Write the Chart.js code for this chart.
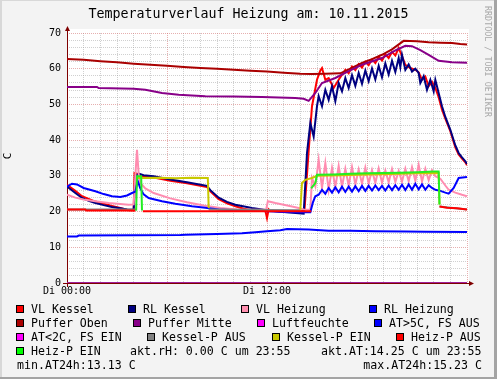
<!DOCTYPE html>
<html>
<head>
<meta charset="utf-8">
<script src="https://cdn.jsdelivr.net/npm/chart.js@4.4.0/dist/chart.umd.min.js"></script>
<style>
  html, body { margin: 0; padding: 0; }
  body {
    width: 497px; height: 379px; position: relative; overflow: hidden;
    background: #f3f3f3; color: #000;
    font-family: 'DejaVu Sans Mono', monospace;
  }
  #plot { position: absolute; left: 0; top: 0; width: 497px; height: 300px; }
  .t { position: absolute; white-space: pre; }
  #title { left: 0; width: 497px; top: 6px; text-align: center; font-size: 13.3px; line-height: 16px; }
  #ylab { left: 5px; top: 149px; font-size: 11px; line-height: 14px; transform: rotate(-90deg); }
  #mark { left: 483px; top: 6px; writing-mode: vertical-rl; font-size: 8.4px; color: #a8a8a8; }
  .leg { font-size: 11.6px; line-height: 14px; }
  .sw { position: absolute; width: 8px; height: 8px; box-sizing: border-box; border: 1px solid #000; }
  .edge { position: absolute; }
</style>
</head>
<body>
<div class="edge" style="left:0;top:0;width:2px;height:379px;background:#d8d8d8"></div>
<div class="edge" style="left:0;top:0;width:497px;height:1px;background:#d8d8d8"></div>
<div class="edge" style="left:494px;top:0;width:3px;height:379px;background:#a4a4a4"></div>
<div class="edge" style="left:0;top:377px;width:497px;height:2px;background:#a4a4a4"></div>

<div id="plot"><canvas id="chart"></canvas></div>
<div class="t" id="title">Temperaturverlauf Heizung am: 10.11.2015</div>
<div class="t" id="ylab">C</div>
<div class="t" id="mark">RRDTOOL / TOBI OETIKER</div>
<div id="legend"></div>

<script>
// Stunden des Tages (x) und Messwerte in °C (y)
const xTickHours = [0, 12];
const xTickLabels = ['Di 00:00', 'Di 12:00'];

const vlKesselH = [0, 0.5, 0.9, 1.7, 2.7, 3.2, 3.7, 4.0, 4.05, 4.3, 4.6, 5.2, 6.2, 7.2, 8.4, 8.6, 9.1, 9.6, 10.1, 10.6, 11.1, 11.9, 12.0, 12.1, 12.2, 13.0, 14.0, 14.25, 14.5, 14.7, 15.0, 15.2, 15.3, 15.5, 15.7, 16.0, 16.3, 16.7, 16.9, 17.1, 17.3, 17.5, 17.7, 17.9, 18.1, 18.3, 18.5, 18.7, 18.9, 19.1, 19.3, 19.5, 19.7, 19.9, 20.1, 20.3, 20.6, 20.9, 21.1, 21.3, 21.5, 21.7, 21.9, 22.1, 22.3, 22.5, 22.7, 23.0, 23.3, 23.5, 23.7, 23.9, 24];
const vlKessel = [27.5, 25.8, 24.3, 22.8, 21.6, 21.0, 20.4, 20.3, 30.8, 30.5, 29.8, 29.5, 28.6, 27.9, 26.9, 25.7, 23.5, 22.3, 21.5, 20.8, 20.4, 20.3, 18.2, 20.6, 20.2, 20.1, 20.0, 20.4, 37.0, 49.5, 56.9, 59.5, 60.2, 56.9, 57.4, 54.6, 56.9, 59.7, 58.7, 60.6, 59.6, 61.3, 60.3, 62.0, 61.0, 62.6, 61.6, 63.3, 62.3, 64.0, 63.0, 64.7, 63.7, 65.8, 63.5, 61.1, 60.2, 59.7, 59.0, 56.9, 57.8, 55.1, 56.3, 54.6, 52.0, 48.5, 46.0, 42.5, 38.0, 36.0, 34.8, 33.8, 33.0];

const rlKesselH = [0, 0.5, 0.9, 1.3, 1.7, 2.2, 2.7, 3.2, 3.6, 4.0, 4.1, 4.3, 4.6, 5.2, 6.2, 7.2, 8.4, 8.6, 9.1, 9.6, 10.1, 11.1, 12.1, 13.0, 13.9, 14.2, 14.4, 14.6, 14.8, 15.0, 15.1, 15.3, 15.5, 15.7, 15.9, 16.1, 16.3, 16.5, 16.7, 16.9, 17.1, 17.3, 17.5, 17.7, 17.9, 18.1, 18.3, 18.5, 18.7, 18.9, 19.1, 19.3, 19.5, 19.7, 19.9, 20.0, 20.1, 20.3, 20.5, 20.7, 20.9, 21.1, 21.2, 21.4, 21.6, 21.8, 22.0, 22.1, 22.5, 22.7, 23.0, 23.3, 23.5, 23.7, 23.9, 24];
const rlKessel = [27.0, 25.2, 23.8, 23.0, 22.4, 21.8, 21.3, 20.9, 20.6, 20.5, 29.9, 30.6, 30.2, 29.9, 29.0, 28.2, 27.2, 26.0, 23.9, 22.7, 21.9, 21.0, 20.3, 19.9, 19.5, 19.4, 36.4, 44.8, 41.0, 49.5, 52.3, 49.5, 54.1, 51.3, 55.1, 50.9, 56.0, 53.7, 57.4, 54.6, 58.2, 55.2, 58.8, 55.8, 59.5, 56.5, 60.1, 57.0, 60.8, 57.6, 61.5, 58.4, 62.2, 59.1, 63.0, 60.5, 63.9, 59.7, 61.2, 59.2, 60.0, 58.8, 56.0, 57.9, 54.1, 56.9, 53.7, 56.9, 49.5, 46.5, 42.9, 38.5, 36.4, 35.2, 34.1, 33.3];

const vlHeizH = [0, 0.5, 1.0, 1.7, 2.5, 3.2, 3.7, 4.0, 4.1, 4.2, 4.3, 4.4, 4.7, 5.2, 6.2, 7.2, 8.2, 9.2, 10.2, 11.0, 11.95, 12.05, 12.5, 13.0, 13.5, 13.9, 14.2, 14.6, 14.7, 14.9, 15.1, 15.3, 15.5, 15.7, 15.9, 16.1, 16.3, 16.5, 16.7, 16.9, 17.1, 17.3, 17.5, 17.7, 17.9, 18.1, 18.3, 18.5, 18.7, 18.9, 19.1, 19.3, 19.5, 19.7, 19.9, 20.1, 20.3, 20.5, 20.7, 20.9, 21.1, 21.3, 21.5, 21.7, 21.9, 22.1, 22.4, 22.7, 22.9, 23.3, 23.7, 24];
const vlHeiz = [24.7, 23.9, 23.4, 22.9, 22.4, 22.1, 21.9, 22.0, 30.0, 37.3, 30.5, 28.0, 26.5, 25.2, 23.7, 22.6, 21.7, 21.0, 20.6, 20.5, 20.5, 22.9, 22.4, 21.9, 21.4, 21.0, 20.6, 20.5, 29.4, 27.0, 34.5, 26.6, 33.6, 26.1, 32.2, 26.8, 32.8, 27.0, 32.0, 27.3, 32.5, 27.6, 31.8, 27.8, 32.3, 27.9, 31.6, 28.0, 32.1, 28.1, 31.5, 28.2, 31.9, 28.3, 31.4, 28.4, 32.0, 28.5, 32.4, 28.6, 33.1, 28.4, 32.0, 28.8, 31.6, 29.9, 29.2, 27.3, 26.1, 25.3, 24.7, 24.3];

const rlHeizH = [0, 0.3, 0.6, 1.0, 1.7, 2.2, 2.7, 3.2, 3.6, 3.9, 4.1, 4.25, 4.4, 4.6, 4.9, 5.7, 6.5, 7.5, 8.3, 9.1, 10.1, 11.1, 12.1, 13.0, 13.9, 14.6, 14.75, 14.9, 15.1, 15.3, 15.5, 15.7, 15.9, 16.1, 16.3, 16.5, 16.7, 16.9, 17.1, 17.3, 17.5, 17.7, 17.9, 18.1, 18.3, 18.5, 18.7, 18.9, 19.1, 19.3, 19.5, 19.7, 19.9, 20.1, 20.3, 20.5, 20.7, 20.9, 21.1, 21.3, 21.5, 21.7, 21.9, 22.1, 22.4, 22.7, 22.9, 23.2, 23.5, 24];
const rlHeiz = [27.0, 27.8, 27.6, 26.6, 25.7, 24.9, 24.3, 24.1, 24.5, 25.2, 25.6, 28.5, 26.5, 24.8, 23.8, 22.9, 22.2, 21.5, 21.1, 20.6, 20.4, 20.3, 20.1, 19.9, 19.8, 19.8, 22.5, 24.3, 24.7, 26.1, 25.0, 26.6, 25.3, 26.8, 25.4, 27.0, 25.5, 27.0, 25.6, 27.1, 25.7, 27.2, 25.8, 27.2, 25.9, 27.3, 26.0, 27.2, 25.9, 27.3, 26.0, 27.4, 26.1, 27.5, 26.0, 27.6, 26.1, 27.8, 26.2, 27.6, 26.1, 27.4, 26.6, 26.1, 25.8, 25.3, 25.0, 26.6, 29.4, 29.7];

const pufferObenH = [0, 1, 2, 3, 4, 5, 6, 7, 8, 9, 10, 11, 12, 13, 14, 14.7, 15.5, 16.4, 17.0, 17.7, 18.3, 18.9, 19.5, 20.2, 21.0, 21.7, 22.4, 23.1, 23.6, 24];
const pufferOben = [62.7, 62.5, 62.1, 61.8, 61.4, 61.1, 60.8, 60.5, 60.2, 60.0, 59.7, 59.4, 59.2, 58.9, 58.6, 58.5, 58.6, 58.7, 60.0, 61.6, 62.7, 63.9, 65.4, 67.8, 67.7, 67.4, 67.3, 67.2, 66.9, 66.8];

const pufferMitteH = [0, 1.8, 1.9, 4.0, 4.7, 5.7, 6.7, 8.3, 10, 11.7, 13.7, 14.2, 14.5, 14.9, 15.3, 16.1, 16.9, 17.7, 18.9, 19.7, 20.3, 20.7, 21.2, 21.7, 22.3, 23.1, 24];
const pufferMitte = [54.9, 54.9, 54.6, 54.4, 54.1, 53.2, 52.7, 52.3, 52.2, 52.1, 51.8, 51.6, 51.0, 53.2, 56.0, 57.4, 59.3, 61.1, 63.0, 65.1, 66.4, 66.3, 65.2, 63.9, 62.2, 61.8, 61.7];

const luftH = [0, 24];
const luft = [0, 0];

const aussenH = [0, 0.6, 0.7, 4.0, 6.8, 7.1, 9.0, 10.5, 11.3, 12.0, 12.8, 13.2, 14.5, 15.7, 17.0, 18.5, 20.3, 21.5, 24];
const aussen = [13.05, 13.05, 13.3, 13.35, 13.45, 13.5, 13.7, 13.9, 14.2, 14.5, 14.8, 15.1, 15.0, 14.6, 14.6, 14.5, 14.45, 14.35, 14.3];

const kesselAusH = [0, 4.2, 4.21, 8.5, 14.0, 14.01, 22.35, 24];
const kesselAus = [20.6, 20.6, null, 20.6, 20.4, null, 21.4, 20.6];

const kesselEinH = [4.2, 4.4, 5.5, 6.5, 7.5, 8.45, 8.5, 11.0, 14.0, 14.1, 14.3, 14.7, 15.0, 16.5, 18.0, 19.5, 21.0, 22.3, 22.35];
const kesselEin = [29.4, 29.4, 29.5, 29.3, 29.5, 29.4, 21.0, null, 20.5, 28.0, 28.9, 29.4, 30.0, 30.2, 30.4, 30.5, 30.7, 30.8, 22.0];

const heizAusH = [0, 1.1, 1.15, 4.1, 4.3, 4.55, 8.0, 12.0, 14.65, 18.0, 22.35, 22.8, 23.4, 24];
const heizAus = [20.6, 20.6, 20.3, 20.3, null, 20.1, 20.1, 20.1, 20.1, null, 21.4, 21.1, 20.9, 20.6];

const heizEinH = [4.15, 4.2, 4.45, 4.5, 9.0, 14.65, 14.9, 15.0, 16.0, 17.0, 18.0, 19.0, 20.0, 21.0, 22.0, 22.3, 22.35];
const heizEin = [20.3, 29.9, 29.9, 20.3, null, 26.5, 28.0, 30.3, 30.4, 30.6, 30.7, 30.8, 30.9, 31.0, 31.2, 31.2, 22.0];

function pts(h, v) {
  return h.map((x, i) => ({ x: x, y: v[i] }));
}

// Reihenfolge wie im RRD-Graph: spaetere Linien liegen oben
const series = [
  { label: 'VL Kessel', color: '#ff0000', data: pts(vlKesselH, vlKessel) },
  { label: 'RL Kessel', color: '#000080', data: pts(rlKesselH, rlKessel) },
  { label: 'VL Heizung', color: '#ff8cb0', data: pts(vlHeizH, vlHeiz) },
  { label: 'RL Heizung', color: '#0000ff', data: pts(rlHeizH, rlHeiz) },
  { label: 'Puffer Oben', color: '#aa0000', data: pts(pufferObenH, pufferOben) },
  { label: 'Puffer Mitte', color: '#880088', data: pts(pufferMitteH, pufferMitte) },
  { label: 'Luftfeuchte', color: '#a0209a', data: pts(luftH, luft) },
  { label: 'AT>5C, FS AUS', color: '#0000ff', data: pts(aussenH, aussen) },
  { label: 'Kessel-P AUS', color: '#808080', data: pts(kesselAusH, kesselAus) },
  { label: 'Kessel-P EIN', color: '#c8c800', data: pts(kesselEinH, kesselEin) },
  { label: 'Heiz-P AUS', color: '#ff0000', data: pts(heizAusH, heizAus) },
  { label: 'Heiz-P EIN', color: '#22ee22', data: pts(heizEinH, heizEin) }
];

const legendRows = [
  [['VL Kessel', '#ff0000', 16], ['RL Kessel', '#000080', 128], ['VL Heizung', '#ff90b0', 241], ['RL Heizung', '#0000ff', 369]],
  [['Puffer Oben', '#aa0000', 16], ['Puffer Mitte', '#880088', 133], ['Luftfeuchte', '#ff00ff', 257], ['AT>5C, FS AUS', '#0000ff', 374]],
  [['AT<2C, FS EIN', '#ff00ff', 16], ['Kessel-P AUS', '#808080', 147], ['Kessel-P EIN', '#c8c800', 272], ['Heiz-P AUS', '#ff0000', 396]],
  [['Heiz-P EIN', '#00ff00', 16], ['akt.rH: 0.00 C um 23:55', null, 130], ['akt.AT:14.25 C um 23:55', null, 321]],
  [['min.AT24h:13.13 C', null, 17], ['max.AT24h:15.23 C', null, -482]]
];

const legend = document.getElementById('legend');
legendRows.forEach((row, r) => {
  const top = 302 + r * 14;
  row.forEach(([text, color, x]) => {
    const d = document.createElement('div');
    d.className = 't leg';
    d.textContent = text;
    d.style.top = top + 'px';
    if (color) {
      const s = document.createElement('div');
      s.className = 'sw';
      s.style.left = x + 'px';
      s.style.top = (top + 3) + 'px';
      s.style.background = color;
      legend.appendChild(s);
      d.style.left = (x + 15) + 'px';
    } else if (x < 0) {
      d.style.right = (497 + x) + 'px';
    } else {
      d.style.left = x + 'px';
    }
    legend.appendChild(d);
  });
});

const majorGrid = 'rgba(210, 110, 110, 0.55)';
const minorGrid = 'rgba(150, 150, 150, 0.45)';
const axisColor = '#7f0000';
const tickFont = { family: 'DejaVu Sans Mono', size: 10 };

// weisser Zeichenbereich, Achsen mit Pfeilen
const frame = {
  id: 'frame',
  beforeDraw(chart) {
    const a = chart.chartArea, ctx = chart.ctx;
    ctx.save();
    ctx.fillStyle = '#ffffff';
    ctx.fillRect(a.left, a.top - 4, a.right - a.left + 2, a.bottom - a.top + 4);
    ctx.restore();
  },
  beforeDatasetsDraw(chart) {
    const a = chart.chartArea, ctx = chart.ctx;
    ctx.save();
    ctx.strokeStyle = axisColor;
    ctx.lineWidth = 1;
    ctx.beginPath();
    ctx.moveTo(a.left - 4, a.bottom + 0.5);
    ctx.lineTo(a.right + 4, a.bottom + 0.5);
    ctx.moveTo(a.left + 0.5, a.bottom + 4);
    ctx.lineTo(a.left + 0.5, a.top - 4);
    ctx.stroke();
    ctx.restore();
  },
  afterDatasetsDraw(chart) {
    const a = chart.chartArea, ctx = chart.ctx;
    ctx.save();
    ctx.fillStyle = axisColor;
    ctx.beginPath();
    ctx.moveTo(a.right + 2, a.bottom - 2);
    ctx.lineTo(a.right + 7, a.bottom + 0.5);
    ctx.lineTo(a.right + 2, a.bottom + 3);
    ctx.closePath();
    ctx.moveTo(a.left - 2, a.top - 2);
    ctx.lineTo(a.left + 0.5, a.top - 7);
    ctx.lineTo(a.left + 3, a.top - 2);
    ctx.closePath();
    ctx.fill();
    ctx.restore();
  }
};

new Chart(document.getElementById('chart'), {
  type: 'line',
  data: {
    datasets: series.map((s, i) => ({
      label: s.label,
      data: s.data,
      borderColor: s.color,
      backgroundColor: s.color,
      borderWidth: 2,
      pointRadius: 0,
      tension: 0,
      spanGaps: false,
      order: series.length - i
    }))
  },
  options: {
    responsive: true,
    maintainAspectRatio: false,
    animation: false,
    layout: { padding: { left: 0, right: 30, top: 33, bottom: 0 } },
    plugins: { legend: { display: false }, tooltip: { enabled: false } },
    scales: {
      x: {
        type: 'linear', min: 0, max: 24,
        afterFit: s => { s.height = 17; },
        ticks: {
          stepSize: 1, autoSkip: false, maxRotation: 0, padding: 2,
          font: tickFont, color: '#000',
          callback: v => {
            const k = xTickHours.indexOf(v);
            return k >= 0 ? xTickLabels[k] : '';
          }
        },
        grid: {
          drawTicks: false,
          color: c => (c.tick && c.tick.value % 6 === 0) ? majorGrid : minorGrid
        },
        border: { display: false, dash: [1, 1] }
      },
      y: {
        min: 0, max: 70,
        afterFit: s => { s.width = 67; },
        ticks: {
          stepSize: 2, autoSkip: false, padding: 6, font: tickFont, color: '#000',
          callback: v => (v % 10 === 0 ? String(v) : '')
        },
        grid: {
          drawTicks: false,
          color: c => (c.tick && c.tick.value % 10 === 0) ? majorGrid : minorGrid
        },
        border: { display: false, dash: [1, 1] }
      }
    }
  },
  plugins: [frame]
});
</script>
</body>
</html>
